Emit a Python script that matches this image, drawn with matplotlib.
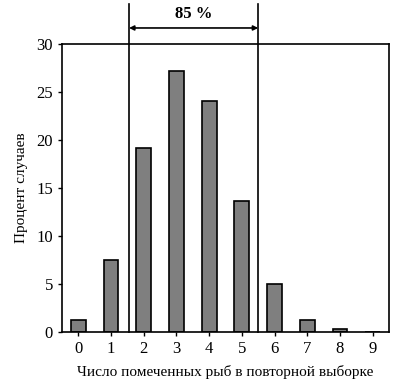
import matplotlib
matplotlib.use("Agg")
import matplotlib.pyplot as plt

categories = [0, 1, 2, 3, 4, 5, 6, 7, 8, 9]
percent = [1.3, 7.5, 19.2, 27.2, 24.1, 13.6, 5.0, 1.3, 0.3, 0.0]
interval = [1.55, 5.5]
interval_label = "85 %"

plt.rcParams['font.family'] = ['Liberation Serif', 'DejaVu Serif']

fig = plt.figure(figsize=(4.0, 3.81), dpi=100)
ax = fig.add_axes([0.155, 0.1286, 0.8175, 0.7559])
ax.bar(categories, percent, width=0.45, color='#7f7f7f', edgecolor='black', linewidth=1.2)
ax.set_xlim(-0.5, 9.5)
ax.set_ylim(0, 30)
ax.set_xticks(categories)
ax.set_yticks([0, 5, 10, 15, 20, 25, 30])
ax.tick_params(direction='out', length=3, width=1, labelsize=12)
for s in ax.spines.values():
    s.set_linewidth(1.2)
ax.set_xlabel("Число помеченных рыб в повторной выборке", fontsize=11, labelpad=6)
ax.set_ylabel("Процент случаев", fontsize=11, labelpad=6)

for xv in interval:
    ax.plot([xv, xv], [0, 34.2], color='black', lw=1.2, clip_on=False)
ax.annotate('', xy=(interval[0], 31.67), xytext=(interval[1], 31.67),
            arrowprops=dict(arrowstyle='<|-|>', color='black', lw=1.2,
                            mutation_scale=7, shrinkA=0, shrinkB=0),
            annotation_clip=False)
ax.text((interval[0] + interval[1]) / 2, 32.3, interval_label, ha='center', va='bottom',
        fontsize=12, fontweight='bold')

fig.savefig("out.png", dpi=100)
